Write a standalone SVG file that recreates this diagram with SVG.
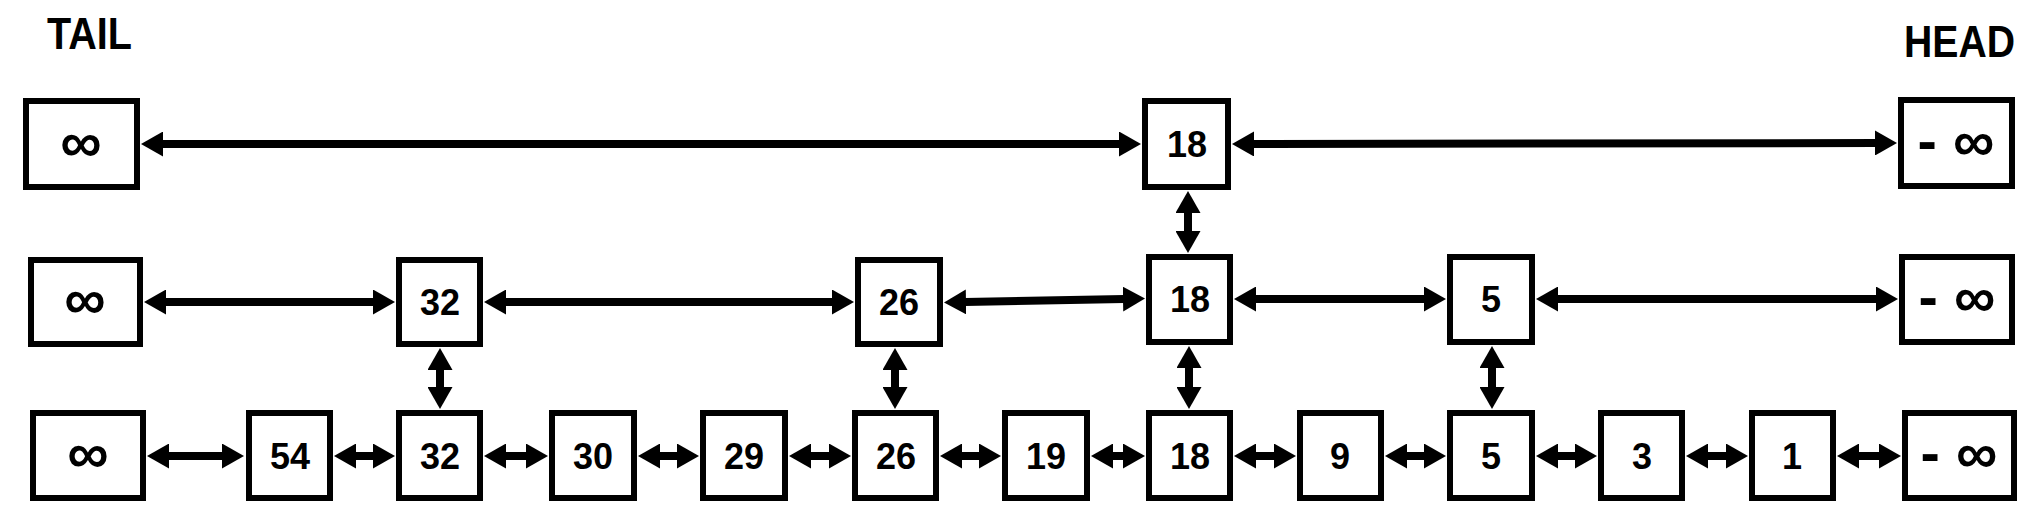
<svg xmlns="http://www.w3.org/2000/svg" width="2030" height="516" viewBox="0 0 2030 516">
<style>
  .box{fill:#fff;stroke:#000;stroke-width:6}
  .t{font-family:"Liberation Sans",Arial,sans-serif;font-weight:bold;font-size:36px;text-anchor:middle;fill:#000}
  .inf{font-family:"Liberation Sans",Arial,sans-serif;font-weight:bold;font-size:58px;text-anchor:middle;fill:#000}
  .lbl{font-family:"Liberation Sans",Arial,sans-serif;font-weight:bold;font-size:44px;fill:#000}
  .c{stroke:#000;stroke-width:8;fill:none;marker-start:url(#ah);marker-end:url(#ah)}
</style>
<defs>
  <marker id="ah" markerUnits="userSpaceOnUse" markerWidth="22" markerHeight="25" refX="1" refY="12.5" orient="auto-start-reverse" viewBox="0 0 22 25">
    <path d="M0,0 L22,12.5 L0,25 Z" fill="#000"/>
  </marker>
</defs>
<rect width="2030" height="516" fill="#fff"/>
<text class="lbl" x="47" y="49" textLength="85" lengthAdjust="spacingAndGlyphs">TAIL</text>
<text class="lbl" x="1904" y="57" textLength="111" lengthAdjust="spacingAndGlyphs">HEAD</text>

<g id="connectors">
  <line class="c" x1="162" y1="144" x2="1120" y2="144"/>
  <line class="c" x1="1253" y1="144" x2="1876" y2="143"/>
  <line class="c" x1="165" y1="302" x2="374" y2="302"/>
  <line class="c" x1="505" y1="302" x2="833" y2="302"/>
  <line class="c" x1="965" y1="302" x2="1124" y2="299"/>
  <line class="c" x1="1255" y1="299" x2="1425" y2="299"/>
  <line class="c" x1="1557" y1="299" x2="1877" y2="299"/>
  <line class="c" x1="1188" y1="212" x2="1188" y2="232"/>
  <line class="c" x1="440" y1="369" x2="440" y2="388"/>
  <line class="c" x1="895" y1="369" x2="895" y2="388"/>
  <line class="c" x1="1189" y1="367" x2="1189" y2="388"/>
  <line class="c" x1="1492" y1="367" x2="1492" y2="388"/>
  <line class="c" x1="168" y1="456" x2="223" y2="456"/>
  <line class="c" x1="355" y1="456" x2="374" y2="456"/>
  <line class="c" x1="505" y1="456" x2="527" y2="456"/>
  <line class="c" x1="659" y1="456" x2="678" y2="456"/>
  <line class="c" x1="810" y1="456" x2="830" y2="456"/>
  <line class="c" x1="961" y1="456" x2="980" y2="456"/>
  <line class="c" x1="1112" y1="456" x2="1124" y2="456"/>
  <line class="c" x1="1255" y1="456" x2="1275" y2="456"/>
  <line class="c" x1="1406" y1="456" x2="1425" y2="456"/>
  <line class="c" x1="1557" y1="456" x2="1576" y2="456"/>
  <line class="c" x1="1707" y1="456" x2="1727" y2="456"/>
  <line class="c" x1="1858" y1="456" x2="1880" y2="456"/>
</g>

<g id="top-inf"><rect class="box" x="26" y="101" width="111" height="86"/><text class="inf" x="81" y="162">∞</text></g>
<g id="top-18"><rect class="box" x="1145" y="101" width="83" height="86"/><text class="t" x="1187" y="157">18</text></g>
<g id="top-neginf"><rect class="box" x="1901" y="100" width="111" height="86"/><text class="inf" x="1956" y="161">- ∞</text></g>

<g id="mid-inf"><rect class="box" x="31" y="260" width="109" height="84"/><text class="inf" x="85" y="319">∞</text></g>
<g id="mid-32"><rect class="box" x="399" y="260" width="81" height="84"/><text class="t" x="440" y="315">32</text></g>
<g id="mid-26"><rect class="box" x="858" y="260" width="82" height="84"/><text class="t" x="899" y="315">26</text></g>
<g id="mid-18"><rect class="box" x="1149" y="257" width="81" height="85"/><text class="t" x="1190" y="312">18</text></g>
<g id="mid-5"><rect class="box" x="1450" y="257" width="82" height="85"/><text class="t" x="1491" y="312">5</text></g>
<g id="mid-neginf"><rect class="box" x="1902" y="257" width="110" height="85"/><text class="inf" x="1957" y="317">- ∞</text></g>

<g id="bot-inf"><rect class="box" x="33" y="413" width="110" height="85"/><text class="inf" x="88" y="473">∞</text></g>
<g id="bot-54"><rect class="box" x="249" y="413" width="81" height="85"/><text class="t" x="290" y="469">54</text></g>
<g id="bot-32"><rect class="box" x="399" y="413" width="81" height="85"/><text class="t" x="440" y="469">32</text></g>
<g id="bot-30"><rect class="box" x="552" y="413" width="82" height="85"/><text class="t" x="593" y="469">30</text></g>
<g id="bot-29"><rect class="box" x="703" y="413" width="82" height="85"/><text class="t" x="744" y="469">29</text></g>
<g id="bot-26"><rect class="box" x="855" y="413" width="81" height="85"/><text class="t" x="896" y="469">26</text></g>
<g id="bot-19"><rect class="box" x="1005" y="413" width="82" height="85"/><text class="t" x="1046" y="469">19</text></g>
<g id="bot-18"><rect class="box" x="1149" y="413" width="81" height="85"/><text class="t" x="1190" y="469">18</text></g>
<g id="bot-9"><rect class="box" x="1300" y="413" width="81" height="85"/><text class="t" x="1340" y="469">9</text></g>
<g id="bot-5"><rect class="box" x="1450" y="413" width="82" height="85"/><text class="t" x="1491" y="469">5</text></g>
<g id="bot-3"><rect class="box" x="1601" y="413" width="81" height="85"/><text class="t" x="1642" y="469">3</text></g>
<g id="bot-1"><rect class="box" x="1752" y="413" width="81" height="85"/><text class="t" x="1792" y="469">1</text></g>
<g id="bot-neginf"><rect class="box" x="1905" y="413" width="109" height="85"/><text class="inf" x="1959" y="473">- ∞</text></g>
</svg>
